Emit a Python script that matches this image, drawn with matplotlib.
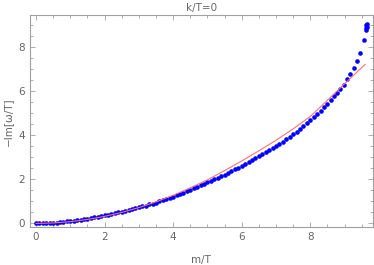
import numpy as np
import matplotlib
matplotlib.use("Agg")
import matplotlib.pyplot as plt
from matplotlib.ticker import MultipleLocator

# blue points: m/T and -Im[w/T]
m_T = [0.0, 0.1, 0.2, 0.3, 0.4, 0.5, 0.6, 0.7, 0.8, 0.9,
       1.0, 1.1, 1.2, 1.3, 1.4, 1.5, 1.6, 1.7, 1.8, 1.9,
       2.0, 2.1, 2.2, 2.3, 2.4, 2.5, 2.6, 2.7, 2.8, 2.9,
       3.0, 3.1, 3.2, 3.3, 3.4, 3.5, 3.6, 3.7, 3.8, 3.9,
       4.0, 4.1, 4.2, 4.3, 4.4, 4.5, 4.6, 4.7, 4.8, 4.9,
       5.0, 5.1, 5.2, 5.3, 5.4, 5.5, 5.6, 5.7, 5.8, 5.9,
       6.0, 6.1, 6.2, 6.3, 6.4, 6.5, 6.6, 6.7, 6.8, 6.9,
       7.0, 7.1, 7.2, 7.3, 7.4, 7.5, 7.6, 7.7, 7.8, 7.9,
       8.0, 8.1, 8.2, 8.3, 8.4, 8.5, 8.6,
       8.68, 8.77, 8.87, 8.98, 9.07, 9.16, 9.28, 9.37, 9.45, 9.58,
       9.63, 9.63, 9.64, 9.63, 9.64]
im_w = [0.00, 0.00, 0.00, 0.00, 0.01, 0.02, 0.03, 0.05, 0.07, 0.09,
        0.11, 0.13, 0.15, 0.17, 0.20, 0.22, 0.25, 0.28, 0.30, 0.33,
        0.36, 0.39, 0.43, 0.46, 0.50, 0.54, 0.57, 0.61, 0.65, 0.69,
        0.73, 0.77, 0.81, 0.86, 0.90, 0.95, 1.00, 1.05, 1.10, 1.15,
        1.20, 1.27, 1.33, 1.40, 1.46, 1.53, 1.60, 1.66, 1.73, 1.79,
        1.86, 1.93, 2.00, 2.07, 2.15, 2.22, 2.30, 2.38, 2.46, 2.54,
        2.62, 2.70, 2.79, 2.87, 2.96, 3.05, 3.14, 3.23, 3.33, 3.42,
        3.52, 3.62, 3.72, 3.83, 3.94, 4.05, 4.17, 4.30, 4.43, 4.56,
        4.70, 4.84, 4.98, 5.12, 5.27, 5.42, 5.60,
        5.78, 5.94, 6.10, 6.30, 6.55, 6.77, 7.05, 7.38, 7.75, 8.36,
        8.80, 8.88, 8.95, 9.02, 9.06]

# red reference curve
fit_x = [0.0, 0.5, 1.0, 1.5, 2.0, 2.5, 3.0, 3.5, 4.0, 4.5, 5.0,
         5.5, 6.0, 6.5, 7.0, 7.5, 8.0, 8.5, 9.0, 9.6]
fit_y = [0.0, 0.02, 0.08, 0.18, 0.32, 0.5, 0.72, 0.98, 1.28, 1.62, 1.98,
         2.4, 2.84, 3.3, 3.78, 4.3, 4.86, 5.6, 6.35, 7.23]

grey = "#a0a0a0"
txt = "#666666"

fig = plt.figure(figsize=(3.74, 2.65), dpi=100)
ax = fig.add_axes([0.079, 0.142, 0.9175, 0.801])

ax.plot(m_T, im_w, "o", color="#0000ff", ms=3.3, mec="none", zorder=2)
ax.plot(fit_x, fit_y, color="#ff7070", lw=0.8, zorder=3)

ax.set_xlim(-0.19, 9.82)
ax.set_ylim(-0.18, 9.47)
ax.xaxis.set_major_locator(MultipleLocator(2))
ax.xaxis.set_minor_locator(MultipleLocator(0.5))
ax.yaxis.set_major_locator(MultipleLocator(2))
ax.yaxis.set_minor_locator(MultipleLocator(0.5))

for s in ax.spines.values():
    s.set_color(grey)
    s.set_linewidth(0.8)
ax.tick_params(which="both", direction="in", top=True, right=True,
               color=grey, labelcolor=txt, labelsize=7.5, width=0.6)
ax.tick_params(which="major", length=3.5)
ax.tick_params(which="minor", length=2)

ax.set_xlabel("m/T", color=txt, fontsize=7.5, labelpad=9)
ax.set_ylabel("\u2212Im[\u03c9/T]", color=txt, fontsize=7.5, labelpad=4)
ax.set_title("k/T=0", color=txt, fontsize=7.5, pad=3)

fig.savefig("out.png", dpi=100)
